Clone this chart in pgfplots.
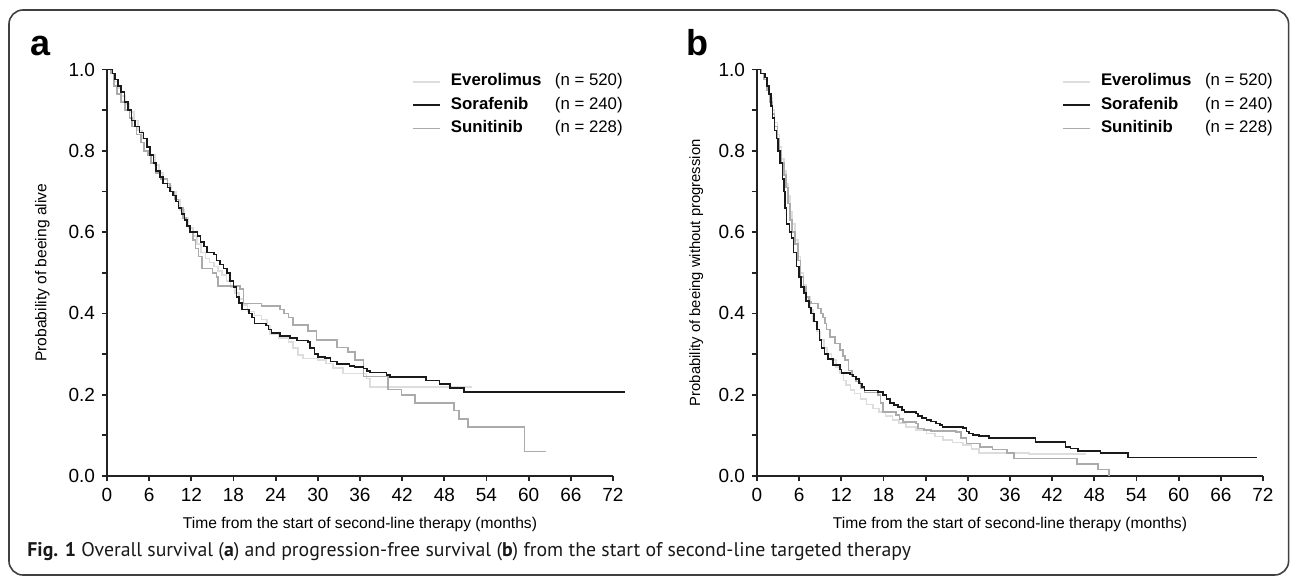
\documentclass[border=0pt]{standalone}
\usepackage{fontspec}
\setmainfont{Liberation Sans}
\newfontfamily\capfont{PT Sans}
\usepackage{pgfplots}
\pgfplotsset{compat=1.18}

\definecolor{evero}{HTML}{DDDDDD}
\definecolor{sora}{HTML}{1A1A1A}
\definecolor{suni}{HTML}{ABABAB}
\definecolor{axisc}{HTML}{222222}

\pgfplotsset{
  km/.style={
    scale only axis, width=253bp, height=203.25bp,
    xmin=0, xmax=72, ymin=0, ymax=1,
    axis lines=left, axis line style={-, axisc, line width=0.9bp},
    clip=false,
    xtick={0,6,...,72}, ytick={0,0.2,0.4,0.6,0.8,1.0},
    minor ytick={0.1,0.3,0.5,0.7,0.9},
    tick align=outside, major tick length=2.5bp, minor tick length=2.5bp,
    every tick/.style={axisc, line width=0.9bp},
    /pgf/number format/assume math mode=true,
    ticklabel style={font=\fontsize{9.5bp}{11bp}\selectfont},
    yticklabel style={/pgf/number format/.cd, fixed, fixed zerofill, precision=1},
    label style={font=\fontsize{7.8bp}{9bp}\selectfont},
    xlabel style={at={(axis description cs:0.5,-0.12)}, anchor=center},
    legend style={draw=none, fill=none, at={(axis cs:43.4,0.99)}, anchor=north west,
      inner sep=0pt, row sep=3.9bp, cells={anchor=west},
      nodes={inner sep=0pt, text height=6bp, text depth=1.8bp},
      font=\fontsize{8.4bp}{10bp}\selectfont,
      /tikz/every odd column/.append style={column sep=5bp}},
    legend image code/.code={\draw[#1] (0bp,0bp) -- (13.5bp,0bp);},
  },
  km line/.style={const plot, line width=0.8bp, mark=none, forget plot},
}

\begin{document}
\begin{tikzpicture}
\useasboundingbox (0,0) rectangle (645bp,-289bp);
\draw[rounded corners=7bp, line width=0.8bp, black!75] (4.5bp,-5bp) rectangle (644.3bp,-287.5bp);

\node[anchor=base west, inner sep=0pt, font=\bfseries\fontsize{18bp}{20bp}\selectfont] at (15bp,-27.5bp) {a};
\node[anchor=base west, inner sep=0pt, font=\bfseries\fontsize{18bp}{20bp}\selectfont] at (343bp,-27.5bp) {b};

% overall survival
\begin{axis}[km, at={(53.5bp,-238bp)}, anchor=south west,
  xlabel={Time from the start of second-line therapy (months)},
  ylabel={Probability of beeing alive},
  ylabel style={at={(axis description cs:-0.128,0.5)}, anchor=center, rotate=0}]
\addlegendimage{evero, line width=0.8bp}
\addlegendentry{\makebox[52bp][l]{\textbf{Everolimus}}(n = 520)}
\addlegendimage{sora, line width=0.8bp}
\addlegendentry{\makebox[52bp][l]{\textbf{Sorafenib}}(n = 240)}
\addlegendimage{suni, line width=0.8bp}
\addlegendentry{\makebox[52bp][l]{\textbf{Sunitinib}}(n = 228)}

\addplot[km line, evero] coordinates {
(0,1.0) (0.5,0.99) (1.0,0.97) (1.5,0.955) (2.0,0.935) (2.6,0.915) (3.2,0.895)
(3.8,0.875) (4.4,0.85) (5.0,0.83) (5.6,0.81) (6.2,0.79) (6.8,0.765) (7.4,0.745)
(8.0,0.73) (8.6,0.715) (9.2,0.70) (9.8,0.68) (10.4,0.655) (11.0,0.635) (11.6,0.61)
(12.2,0.59) (12.8,0.57) (13.4,0.55) (14.0,0.535) (14.6,0.525) (15.2,0.515)
(15.8,0.505) (16.4,0.495) (17.0,0.48) (17.6,0.465) (18.2,0.45) (18.8,0.435)
(19.4,0.42) (20.0,0.405) (21.0,0.395) (22.0,0.385) (22.8,0.37) (23.2,0.35)
(24.5,0.34) (25.8,0.33) (26.5,0.315) (27.2,0.297) (27.9,0.289) (30.0,0.285)
(31.2,0.277) (32.2,0.265) (33.6,0.252) (36.9,0.24) (37.4,0.219) (52.0,0.219)
};
\addplot[km line, suni] coordinates {
(0,1.0) (0.6,0.99) (1.0,0.96) (1.4,0.94) (2.0,0.92) (2.6,0.90) (3.2,0.88)
(3.6,0.86) (4.2,0.84) (4.8,0.82) (5.3,0.80) (5.8,0.79) (6.3,0.77) (7.0,0.745)
(7.6,0.73) (8.6,0.72) (9.0,0.70) (9.6,0.68) (10.2,0.66) (10.8,0.635) (11.3,0.615)
(11.8,0.60) (12.2,0.58) (12.6,0.56) (13.0,0.54) (13.5,0.51) (15.0,0.50)
(15.6,0.49) (15.8,0.467) (18.9,0.46) (19.4,0.424) (22.0,0.418) (24.6,0.41)
(25.2,0.40) (25.8,0.39) (26.5,0.372) (28.6,0.356) (29.8,0.334) (32.7,0.316)
(34.3,0.305) (35.3,0.285) (36.5,0.245) (40.0,0.213) (41.9,0.199) (43.8,0.180)
(49.4,0.161) (50.1,0.140) (51.4,0.120) (59.4,0.060) (62.4,0.060)
};
\addplot[km line, sora] coordinates {
(0,1.0) (0.8,0.99) (1.1,0.975) (1.6,0.96) (2.0,0.945) (2.5,0.92) (3.0,0.90)
(3.5,0.875) (4.0,0.86) (4.6,0.845) (5.2,0.83) (5.7,0.81) (6.1,0.79) (6.6,0.77)
(7.0,0.75) (7.5,0.735) (8.0,0.72) (8.6,0.71) (9.0,0.70) (9.4,0.69) (9.8,0.675)
(10.2,0.66) (10.6,0.645) (11.0,0.63) (11.4,0.615) (11.8,0.60) (12.9,0.59)
(13.3,0.575) (13.8,0.565) (14.2,0.55) (15.2,0.545) (15.6,0.53) (16.1,0.52)
(16.6,0.51) (17.1,0.50) (17.5,0.48) (18.0,0.465) (18.4,0.44) (18.8,0.425)
(19.2,0.41) (20.2,0.40) (20.6,0.39) (21.0,0.375) (22.6,0.37) (23.0,0.36)
(23.4,0.352) (24.6,0.345) (26.0,0.34) (27.0,0.333) (28.6,0.33) (28.9,0.315)
(29.5,0.30) (30.0,0.293) (31.0,0.29) (31.8,0.282) (32.7,0.276) (34.5,0.27)
(35.2,0.268) (36.5,0.264) (37.0,0.258) (37.4,0.255) (39.8,0.248) (40.3,0.244)
(45.4,0.235) (47.3,0.226) (48.8,0.216) (50.8,0.206) (73.7,0.206)
};
\end{axis}

% progression-free survival
\begin{axis}[km, at={(378.5bp,-238bp)}, anchor=south west,
  xlabel={Time from the start of second-line therapy (months)},
  ylabel={Probability of beeing without progression},
  ylabel style={at={(axis description cs:-0.12,0.5)}, anchor=center, rotate=0,
    font=\fontsize{7.4bp}{9bp}\selectfont}]
\addlegendimage{evero, line width=0.8bp}
\addlegendentry{\makebox[52bp][l]{\textbf{Everolimus}}(n = 520)}
\addlegendimage{sora, line width=0.8bp}
\addlegendentry{\makebox[52bp][l]{\textbf{Sorafenib}}(n = 240)}
\addlegendimage{suni, line width=0.8bp}
\addlegendentry{\makebox[52bp][l]{\textbf{Sunitinib}}(n = 228)}

\addplot[km line, evero] coordinates {
(0,1.0) (0.5,0.99) (1.0,0.975) (1.5,0.955) (1.8,0.93) (2.2,0.90) (2.5,0.87)
(2.9,0.84) (3.2,0.81) (3.5,0.78) (3.8,0.75) (4.1,0.72) (4.4,0.69) (4.7,0.65)
(5.0,0.62) (5.4,0.58) (5.8,0.54) (6.2,0.50) (6.6,0.47) (7.0,0.44) (7.5,0.41)
(8.0,0.38) (8.5,0.355) (9.0,0.335) (9.5,0.315) (10.0,0.30) (10.6,0.285)
(11.2,0.268) (11.8,0.252) (12.3,0.235) (12.7,0.224) (13.3,0.212) (13.9,0.203)
(14.7,0.19) (15.6,0.176) (16.5,0.166) (17.4,0.158) (18.3,0.148) (19.3,0.138)
(20.2,0.13) (21.2,0.121) (22.6,0.113) (24.1,0.105) (25.3,0.097) (26.5,0.088)
(27.8,0.082) (29.3,0.076) (30.5,0.066) (31.6,0.057) (38.7,0.054) (46.8,0.054)
};
\addplot[km line, suni] coordinates {
(0,1.0) (0.6,0.99) (1.0,0.975) (1.4,0.95) (1.8,0.92) (2.2,0.89) (2.5,0.86)
(2.9,0.83) (3.2,0.80) (3.5,0.77) (3.8,0.74) (4.1,0.71) (4.4,0.67) (4.7,0.63)
(5.0,0.60) (5.4,0.57) (5.8,0.53) (6.2,0.49) (6.6,0.465) (7.0,0.44) (7.4,0.428)
(7.7,0.424) (8.7,0.412) (9.1,0.40) (9.4,0.39) (9.7,0.375) (9.9,0.36) (10.4,0.342)
(11.1,0.326) (11.8,0.31) (12.2,0.295) (12.5,0.285) (13.0,0.26) (13.5,0.245)
(14.1,0.232) (14.7,0.215) (15.3,0.205) (17.2,0.199) (17.6,0.18) (17.9,0.158)
(19.8,0.150) (20.3,0.14) (20.8,0.133) (22.6,0.129) (22.9,0.117) (23.8,0.113)
(24.8,0.111) (28.3,0.108) (29.0,0.093) (29.8,0.080) (31.7,0.072) (33.5,0.065)
(35.6,0.056) (36.6,0.043) (45.5,0.030) (48.5,0.016) (50.1,0.0)
};
\addplot[km line, sora] coordinates {
(0,1.0) (0.5,0.99) (1.1,0.98) (1.4,0.96) (1.7,0.94) (2.0,0.91) (2.2,0.88)
(2.5,0.85) (2.8,0.83) (3.0,0.80) (3.3,0.77) (3.6,0.73) (3.8,0.70) (4.0,0.66)
(4.2,0.62) (4.6,0.60) (4.9,0.585) (5.2,0.55) (5.6,0.515) (6.0,0.49) (6.3,0.465)
(6.7,0.45) (7.0,0.43) (7.4,0.415) (7.7,0.40) (8.1,0.38) (8.5,0.36) (8.9,0.335)
(9.2,0.315) (9.6,0.30) (10.1,0.288) (10.8,0.273) (11.8,0.262) (12.0,0.254)
(13.2,0.250) (13.7,0.245) (14.1,0.238) (14.5,0.228) (14.9,0.219) (15.3,0.21)
(17.2,0.206) (17.9,0.20) (18.4,0.19) (18.9,0.18) (19.5,0.175) (20.1,0.17)
(20.6,0.163) (21.0,0.157) (22.6,0.154) (22.9,0.147) (23.5,0.143) (24.1,0.138)
(24.8,0.134) (25.5,0.129) (26.0,0.125) (26.4,0.12) (29.3,0.118) (29.8,0.109)
(30.2,0.105) (30.7,0.101) (31.6,0.098) (33.0,0.094) (39.3,0.094) (39.6,0.083)
(43.8,0.083) (43.9,0.072) (44.6,0.068) (45.7,0.062) (48.9,0.056) (52.8,0.046)
(71.1,0.046)
};
\end{axis}

\node[anchor=base west, inner sep=0pt, font=\capfont\fontsize{9.9bp}{11bp}\selectfont, text=black!90] at (13.5bp,-278bp)
  {\textbf{Fig. 1} Overall survival (\textbf{a}) and progression-free survival (\textbf{b}) from the start of second-line targeted therapy};
\end{tikzpicture}
\end{document}
